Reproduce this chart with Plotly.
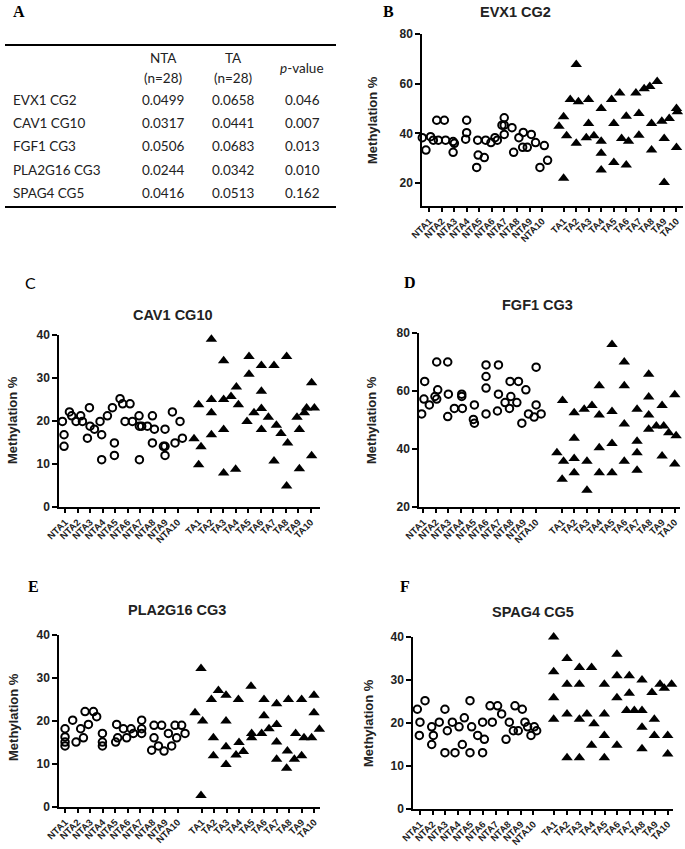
import plotly.graph_objects as go

W, H = 685, 849

# ---------------- Panel A table data ----------------
table_genes = ["EVX1 CG2", "CAV1 CG10", "FGF1 CG3", "PLA2G16 CG3", "SPAG4 CG5"]
table_nta = ["0.0499", "0.0317", "0.0506", "0.0244", "0.0416"]
table_ta = ["0.0658", "0.0441", "0.0683", "0.0342", "0.0513"]
table_p = ["0.046", "0.007", "0.013", "0.010", "0.162"]

nta_labels = [f"NTA{i}" for i in range(1, 11)]
ta_labels = [f"TA{i}" for i in range(1, 11)]

# ---------------- Panel B: EVX1 CG2 ----------------
evx1_nta_x = [0.44, 0.73, 1.1, 1.32, 1.72, 1.59, 2.2, 2.3, 2.9, 3.0, 2.9, 3.98, 3.98, 3.9, 4.86, 4.78, 4.9, 5.39, 5.5,
              5.92, 6.24, 6.43, 6.98, 6.98, 6.8, 6.98, 7.6, 7.73, 8.15, 8.5, 8.45, 8.82, 9.14, 9.48, 9.83, 10.18, 10.44]
evx1_nta_y = [38.3, 33.3, 38.7, 37.3, 37.3, 45.3, 45.3, 37.3, 36.7, 36, 32.4, 45.3, 40.3, 37.7, 37.3, 26.3, 31.3, 30.3,
              37.3, 36.3, 38.3, 37.3, 46.3, 43.3, 43.3, 39.6, 42.3, 32.4, 38.3, 40.4, 34.4, 34.4, 39.6, 36.3, 26.3,
              35.1, 29.2]
evx1_ta_x = [11.35, 11.72, 11.72, 11.96, 12.25, 12.73, 12.73, 12.9, 13.53, 13.71, 13.71, 14.14, 14.72, 14.72, 14.72,
             14.72, 15.55, 15.73, 15.73, 16.2, 16.35, 16.72, 16.72, 16.9, 17.49, 17.73, 17.73, 18.15, 18.6, 18.74,
             18.74, 19.19, 19.56, 19.75, 19.75, 20.15, 20.73, 20.8, 20.73]
evx1_ta_y = [42.9, 46.7, 22, 39.1, 53.6, 67.7, 36, 52.7, 38.3, 53.6, 44, 39.1, 50, 36.9, 32, 25.3, 53.6, 44, 28.3,
             56.3, 38, 46.9, 27.3, 36.9, 56.3, 48, 39.3, 58, 58.9, 44, 33.3, 60.9, 44.9, 38, 20.3, 46, 50, 48.7, 34.3]

# ---------------- Panel C: CAV1 CG10 ----------------
cav1_nta_x = [0.79, 0.92, 0.92, 1.35, 1.53, 1.88, 2.25, 2.39, 2.79, 2.95, 3.0, 3.35, 3.8, 3.93, 3.93, 4.39, 4.79, 4.95,
              4.95, 5.4, 5.61, 5.8, 6.2, 6.39, 6.92, 6.95, 6.95, 7.13, 7.59, 7.99, 7.99, 8.15, 9.0, 9.0, 9.0, 8.87,
              9.59, 9.8, 10.2, 10.39]
cav1_nta_y = [19.9, 16.8, 14.1, 22.1, 21.2, 19.9, 21.2, 19.9, 16, 23.1, 18.8, 18.1, 19.9, 16.8, 11, 21.2, 23.1, 14.9,
              12, 25.2, 24, 19.9, 24, 19.9, 21.2, 18.8, 11, 18.8, 18.8, 21.2, 14.9, 18.1, 18.1, 14.1, 12, 14.1, 22.1,
              14.9, 19.9, 16]
cav1_ta_x = [11.32, 11.69, 11.69, 11.88, 12.71, 12.71, 12.71, 12.71, 13.69, 13.69, 13.69, 13.69, 14.28, 14.71, 14.87,
             14.65, 15.56, 15.72, 15.72, 16.12, 16.71, 16.71, 16.71, 16.71, 17.27, 17.72, 17.72, 17.91, 18.28, 18.73,
             18.81, 18.73, 19.56, 19.75, 19.75, 20.15, 20.33, 20.73, 20.73, 20.95]
cav1_ta_y = [15.9, 23.8, 9.8, 14, 39, 25, 21.9, 16.8, 34, 25, 18, 7.9, 25.7, 27.9, 23.8, 8.8, 19.9, 35, 30.9, 21.9,
             32.9, 26.9, 22.9, 18, 20.9, 32.9, 10.7, 19, 17.1, 35, 14.9, 4.9, 20.9, 18, 8.9, 21.9, 23, 28.9, 11.9, 23]

# ---------------- Panel D: FGF1 CG3 ----------------
fgf1_nta_x = [0.87, 1.05, 1.11, 1.48, 1.93, 2.07, 2.07, 2.15, 2.95, 3.0, 2.95, 3.48, 4.07, 4.07, 4.12, 5.08, 5.0, 5.08,
              6.01, 6.01, 6.01, 6.01, 7.0, 7.0, 6.92, 7.53, 7.88, 7.99, 7.93, 8.6, 8.47, 9.19, 8.87, 9.4, 9.85, 10.01,
              10.01, 10.41]
fgf1_nta_y = [52.1, 57.2, 63.3, 55.2, 58.1, 57.2, 70, 60.4, 70, 58.9, 51.2, 54, 58.9, 58.1, 54, 55.2, 50.2, 48.9, 69,
              65, 61, 52.1, 69, 58.9, 53.1, 56, 54, 58.1, 63.3, 63.3, 56, 60.4, 48.9, 52.1, 51, 68.2, 55.2, 52.1]
fgf1_ta_x = [11.67, 12.12, 12.2, 12.09, 13.05, 13.05, 13.05, 13.05, 13.85, 14.07, 14.07, 14.47, 15.05, 15.05, 15.05,
             15.05, 16.07, 16.07, 16.07, 16.07, 17.05, 17.05, 17.05, 17.05, 18.07, 18.07, 18.07, 18.07, 19.0, 19.0,
             19.0, 19.0, 19.61, 20.07, 20.2, 20.07, 20.6, 21.08, 21.19, 21.08]
fgf1_ta_y = [38.7, 56.7, 35.8, 29.6, 52.5, 43.7, 36.7, 31.8, 53.7, 35.8, 25.8, 55, 61.8, 51.7, 40.4, 31.8, 76, 52.9,
             41.9, 31.8, 70, 61.8, 48.6, 35.8, 53.7, 42.7, 38.7, 32.7, 65.8, 57.9, 51.7, 46.8, 47.9, 55, 47.9, 37.6,
             45.6, 58.7, 44.6, 34.8]

# ---------------- Panel E: PLA2G16 CG3 ----------------
pla_nta_x = [1.0, 1.0, 1.0, 1.0, 1.61, 1.88, 2.25, 2.47, 2.6, 2.87, 3.27, 3.53, 3.99, 3.99, 3.99, 5.05, 5.13, 5.21,
             5.67, 5.93, 6.28, 6.47, 7.13, 7.13, 7.13, 7.93, 8.12, 8.12, 8.47, 8.73, 8.92, 9.27, 9.53, 9.8, 9.93,
             10.33, 10.6]
pla_nta_y = [18.2, 16.3, 15.1, 14.2, 20.2, 15.1, 18.2, 16.1, 22.2, 19.2, 22.2, 21, 17.1, 15.1, 14.2, 15.1, 19.2, 16.1,
             18.2, 16.1, 18.2, 17.1, 20.2, 18.2, 17.1, 13.2, 16.1, 19, 14.2, 19, 13, 17.1, 14.2, 19, 16.1, 19, 17.1]
pla_ta_x = [11.4, 11.88, 12.01, 11.88, 12.71, 12.87, 12.87, 13.27, 13.88, 13.88, 13.88, 13.88, 14.68, 14.87, 14.92,
            15.27, 15.93, 15.93, 15.88, 16.73, 16.92, 16.92, 17.32, 17.93, 17.93, 17.93, 17.93, 18.79, 18.87, 19.35,
            18.73, 19.45, 19.93, 19.93, 20.12, 20.73, 20.92, 20.92, 21.35]
pla_ta_y = [21.9, 32.2, 20, 2.7, 25, 16.1, 11.9, 27.1, 26, 20, 14, 9.9, 12.1, 25, 15, 12.9, 16.1, 17.1, 28.1, 17.1, 25,
            21.2, 18.2, 24, 19.2, 15.1, 11.1, 13, 25, 11.1, 9, 17.1, 11.9, 25, 16.1, 16.1, 26, 21.9, 18.1]

# ---------------- Panel F: SPAG4 CG5 ----------------
spag_nta_x = [0.79, 1.0, 0.95, 1.4, 1.93, 2.06, 1.93, 2.53, 2.98, 2.98, 3.17, 3.57, 3.78, 4.1, 4.36, 4.52, 4.97, 5.1,
              4.97, 5.58, 6.11, 5.97, 5.97, 6.56, 6.74, 7.16, 7.48, 7.83, 8.09, 8.41, 8.8, 8.54, 9.12, 9.33, 9.54,
              9.81, 10.07, 10.26]
spag_nta_y = [23.2, 20.2, 17.1, 25.2, 19.1, 17.1, 15, 20.2, 23.2, 13.1, 18.2, 20.2, 13.1, 19.1, 15, 21.2, 25.2, 19.1,
              13.1, 17.1, 16.2, 20.2, 13.1, 24, 20.2, 24, 22.1, 16.2, 20.2, 18.2, 18.2, 24, 23.2, 20.2, 19.1, 17.1,
              19.1, 18.2]
spag_ta_x = [11.61, 11.61, 11.61, 11.61, 12.67, 12.67, 12.67, 12.67, 13.65, 13.65, 13.65, 13.65, 14.25, 14.62, 14.81,
             14.62, 15.63, 15.63, 15.63, 15.63, 16.63, 16.63, 16.63, 16.63, 17.61, 17.61, 17.4, 18.01, 18.62, 18.62,
             18.62, 18.62, 19.41, 19.6, 19.6, 20.05, 20.39, 20.66, 20.66, 20.97]
spag_ta_y = [40, 31.9, 25.9, 20.9, 35, 29, 22.1, 11.9, 32.9, 29, 20.9, 11.9, 22.1, 32.9, 19.8, 14.8, 29, 22.1, 17.1,
             11.9, 36, 31, 25.9, 14.8, 31, 26.9, 22.9, 22.9, 22.9, 30, 19, 14, 27.1, 20.9, 17.1, 29, 28.1, 17.1,
             12.8, 29]

panel_titles = ["EVX1 CG2", "CAV1 CG10", "FGF1 CG3", "PLA2G16 CG3", "SPAG4 CG5"]
panel_letters = ["B", "C", "D", "E", "F"]
y_ticks = [[20, 40, 60, 80], [0, 10, 20, 30, 40], [20, 40, 60, 80], [0, 10, 20, 30, 40], [0, 10, 20, 30, 40]]
series = [
    (evx1_nta_x, evx1_nta_y, evx1_ta_x, evx1_ta_y),
    (cav1_nta_x, cav1_nta_y, cav1_ta_x, cav1_ta_y),
    (fgf1_nta_x, fgf1_nta_y, fgf1_ta_x, fgf1_ta_y),
    (pla_nta_x, pla_nta_y, pla_ta_x, pla_ta_y),
    (spag_nta_x, spag_nta_y, spag_ta_x, spag_ta_y),
]

# ---------------- layout (pixel geometry) ----------------
geom = [
    dict(xp=(422.3, 683), yp=(34, 206), yr=(10.8, 80), xr=(0.44, 21.25), ta=11.73,
         tpos=(515, 12), lpos=(388, 12), lfont="Liberation Serif", ypos=(372, 120)),
    dict(xp=(59.3, 320), yp=(335, 507), yr=(0, 40), xr=(0.54, 21.4), ta=11.66,
         tpos=(173, 315), lpos=(30, 283), lfont="Lato", ypos=(13, 420)),
    dict(xp=(419.3, 680), yp=(333, 507), yr=(20, 80), xr=(0.68, 21.5), ta=12.07,
         tpos=(537, 305), lpos=(410, 283), lfont="Liberation Serif", ypos=(372, 420)),
    dict(xp=(59.3, 320), yp=(635, 807), yr=(0, 40), xr=(0.54, 21.4), ta=11.93,
         tpos=(177, 610), lpos=(33, 586), lfont="Liberation Serif", ypos=(13, 717)),
    dict(xp=(413.3, 673), yp=(637, 809), yr=(0, 40), xr=(0.47, 21.08), ta=11.66,
         tpos=(533, 612), lpos=(405, 586), lfont="Liberation Serif", ypos=(368, 723)),
]


def px(x):
    return x / W


def py(y):
    return 1 - y / H


def note(text, x, y, font, xanchor="center", angle=0):
    return dict(text=text, x=px(x), y=py(y), xref="paper", yref="paper", showarrow=False,
                xanchor=xanchor, yanchor="middle", textangle=angle, font=font, borderpad=0)


fig = go.Figure()
annotations = []
shapes = []
layout_axes = {}

for i, (g, (nx, ny, tx, ty)) in enumerate(zip(geom, series)):
    n = i + 1
    xa = "x" if n == 1 else f"x{n}"
    ya = "y" if n == 1 else f"y{n}"
    xkey = "xaxis" if n == 1 else f"xaxis{n}"
    ykey = "yaxis" if n == 1 else f"yaxis{n}"
    fig.add_trace(go.Scatter(
        x=nx, y=ny, mode="markers", xaxis=xa, yaxis=ya, cliponaxis=False, showlegend=False,
        marker=dict(symbol="circle-open", size=7.5, color="black", line=dict(width=2, color="black"))))
    fig.add_trace(go.Scatter(
        x=tx, y=ty, mode="markers", xaxis=xa, yaxis=ya, cliponaxis=False, showlegend=False,
        marker=dict(symbol="triangle-up", size=10, color="black", line=dict(width=0))))
    tickvals = [k + 1 for k in range(10)] + [g["ta"] + k for k in range(10)]
    layout_axes[xkey] = dict(
        domain=[px(g["xp"][0]), px(g["xp"][1])], range=list(g["xr"]), anchor=ya, automargin=False,
        showline=True, linecolor="black", linewidth=2, showgrid=False, zeroline=False,
        ticks="outside", ticklen=4, tickwidth=1.5, tickcolor="black",
        tickvals=tickvals, ticktext=nta_labels + ta_labels, tickangle=-45,
        tickfont=dict(family="Arial", size=9.5, color="#222", weight="bold"))
    layout_axes[ykey] = dict(
        domain=[py(g["yp"][1]), py(g["yp"][0])], range=list(g["yr"]), anchor=xa, automargin=False,
        showline=True, linecolor="black", linewidth=2, showgrid=False, zeroline=False,
        ticks="outside", ticklen=5, tickwidth=2, tickcolor="black",
        tickvals=y_ticks[i], tickfont=dict(family="Arial", size=12, color="#222", weight="bold"))
    annotations.append(note(panel_titles[i], g["tpos"][0], g["tpos"][1],
                            dict(family="Arial", size=14.5, color="#222", weight="bold")))
    annotations.append(note(panel_letters[i], g["lpos"][0], g["lpos"][1],
                            dict(family=g["lfont"], size=16, color="black",
                                 weight="bold" if g["lfont"] != "Lato" else "normal")))
    annotations.append(note("Methylation %", g["ypos"][0], g["ypos"][1],
                            dict(family="Arial", size=13, color="#222", weight="bold"), angle=-90))

# ---------------- Panel A table ----------------
tfont = dict(family="Lato", size=13.5, color="#222")
annotations.append(note("A", 19, 12, dict(family="Liberation Serif", size=16, color="black", weight="bold")))
shapes.append(dict(type="line", xref="paper", yref="paper", x0=px(5), x1=px(336), y0=py(45), y1=py(45),
                   line=dict(color="black", width=2)))
shapes.append(dict(type="line", xref="paper", yref="paper", x0=px(5), x1=px(336), y0=py(207), y1=py(207),
                   line=dict(color="black", width=2)))
col_x = [163, 233, 302]
annotations.append(note("NTA", col_x[0], 58, tfont))
annotations.append(note("(n=28)", col_x[0], 78, tfont))
annotations.append(note("TA", col_x[1], 58, tfont))
annotations.append(note("(n=28)", col_x[1], 78, tfont))
annotations.append(note("<i>p</i>-value", col_x[2], 68, tfont))
row_y = [100, 123, 146, 170, 193]
for r, (gname, a, b, p) in enumerate(zip(table_genes, table_nta, table_ta, table_p)):
    annotations.append(note(gname, 12, row_y[r], tfont, xanchor="left"))
    for cx, val in zip(col_x, (a, b, p)):
        annotations.append(note(val, cx, row_y[r], tfont))

fig.update_layout(
    width=W, height=H, margin=dict(l=0, r=0, t=0, b=0, autoexpand=False),
    paper_bgcolor="white", plot_bgcolor="white",
    annotations=annotations, shapes=shapes, **layout_axes)

fig.write_html("out.html", config={"displayModeBar": False},
               post_script="document.body.style.margin='0';document.body.style.overflow='hidden';")
